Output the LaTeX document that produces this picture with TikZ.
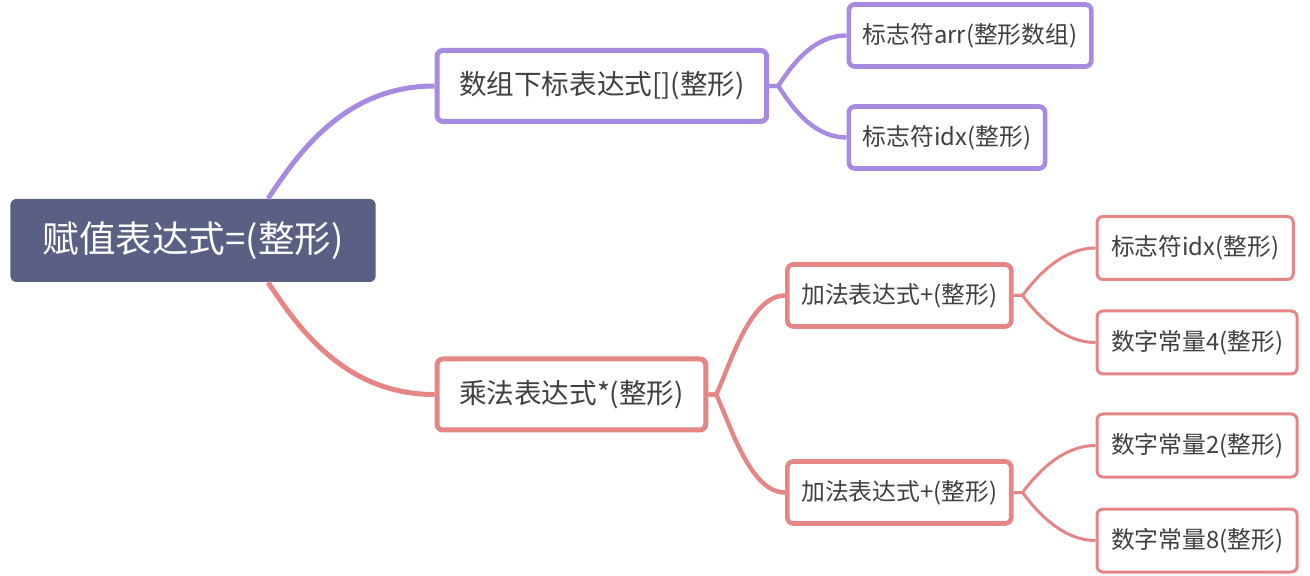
\documentclass[tikz,border=0pt]{standalone}
\usepackage{fontspec}
\setmainfont{Noto Sans CJK SC}
\definecolor{rootblue}{RGB}{90,95,132}
\definecolor{lilac}{RGB}{167,139,224}
\definecolor{rose}{RGB}{229,133,133}
\definecolor{inkgray}{RGB}{64,64,64}
\tikzstyle{central} = [rectangle, rounded corners=3pt, fill=rootblue, text=white, minimum height=41.5pt, inner xsep=16pt, font=\fontsize{18.3}{21}\selectfont]
\tikzstyle{mainbox} = [rectangle, rounded corners=3pt, line width=2.5pt, fill=white, text=inkgray, minimum height=35.5pt, inner xsep=11pt, font=\fontsize{13.8}{16}\selectfont]
\tikzstyle{subbox} = [rectangle, rounded corners=3pt, line width=2.3pt, fill=white, text=inkgray, minimum height=31pt, inner xsep=7pt, font=\fontsize{11.9}{14}\selectfont]
\tikzstyle{leafbox} = [rectangle, rounded corners=3pt, line width=1.5pt, fill=white, text=inkgray, minimum height=31.5pt, inner xsep=7pt, font=\fontsize{11.9}{14}\selectfont]
\tikzstyle{branch} = [line width=2.5pt]
\tikzstyle{twig} = [line width=2.2pt]
\tikzstyle{leafline} = [line width=1.5pt]

\begin{document}
\begin{tikzpicture}[x=0.5pt, y=-0.5pt]
\useasboundingbox (0,0) rectangle (1310,576);

% Nodos del mapa
\node (root) [central, anchor=west] at (10,240.5) {赋值表达式=(整形)};
\node (index) [mainbox, draw=lilac, anchor=west] at (434.5,86) {数组下标表达式[](整形)};
\node (arr) [subbox, draw=lilac, anchor=west] at (846.5,35.5) {标志符arr(整形数组)};
\node (idxa) [subbox, draw=lilac, anchor=west] at (846.5,137.5) {标志符idx(整形)};
\node (mul) [mainbox, draw=rose, anchor=west] at (434.5,394.5) {乘法表达式*(整形)};
\node (adda) [subbox, draw=rose, anchor=west] at (785,295.5) {加法表达式+(整形)};
\node (addb) [subbox, draw=rose, anchor=west] at (785,492.5) {加法表达式+(整形)};
\node (idxb) [leafbox, draw=rose, anchor=west] at (1095.5,248) {标志符idx(整形)};
\node (four) [leafbox, draw=rose, anchor=west] at (1095.5,342.5) {数字常量4(整形)};
\node (two) [leafbox, draw=rose, anchor=west] at (1095.5,445.5) {数字常量2(整形)};
\node (eight) [leafbox, draw=rose, anchor=west] at (1095.5,540.5) {数字常量8(整形)};

% Ramas
\draw [branch, lilac] ([xshift=37.5pt]root.north) .. controls +(30,-45) and +(-90,0) .. (index.west);
\draw [branch, rose] ([xshift=37.5pt]root.south) .. controls +(30,45) and +(-90,0) .. (mul.west);
\draw [twig, lilac] (index.east) -- ++(9,0) .. controls +(12,-18) and +(-35,0) .. (arr.west);
\draw [twig, lilac] (index.east) -- ++(9,0) .. controls +(12,18) and +(-35,0) .. (idxa.west);
\draw [twig, rose] (mul.east) -- ++(8,0) .. controls +(14,-30) and +(-35,0) .. (adda.west);
\draw [twig, rose] (mul.east) -- ++(8,0) .. controls +(14,30) and +(-35,0) .. (addb.west);
\draw [leafline, rose] (adda.east) -- ++(9,0) .. controls +(12,-16) and +(-35,0) .. (idxb.west);
\draw [leafline, rose] (adda.east) -- ++(9,0) .. controls +(12,16) and +(-35,0) .. (four.west);
\draw [leafline, rose] (addb.east) -- ++(9,0) .. controls +(12,-16) and +(-35,0) .. (two.west);
\draw [leafline, rose] (addb.east) -- ++(9,0) .. controls +(12,16) and +(-35,0) .. (eight.west);

\end{tikzpicture}
\end{document}
